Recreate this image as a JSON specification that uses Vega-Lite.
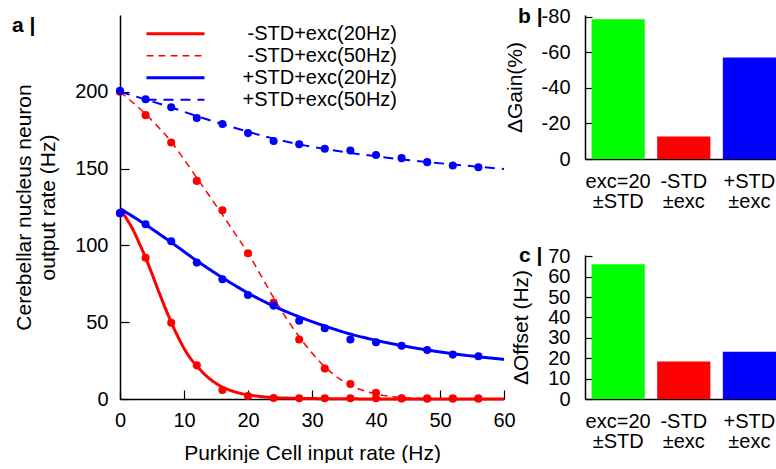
{
  "$schema": "https://vega.github.io/schema/vega-lite/v6.json",
  "padding": {"left": 12, "top": 5, "right": 0, "bottom": 0},
  "background": "white",
  "config": {
    "font": "Liberation Sans",
    "view": {"stroke": null},
    "axis": {"grid": false, "domainColor": "#000", "domainWidth": 1.5, "tickColor": "#000", "tickWidth": 1.2, "ticks": true, "labelColor": "#000", "titleColor": "#000", "labelFontSize": 20, "titleFontSize": 21, "titleFontWeight": "normal", "labelFont": "Liberation Sans", "titleFont": "Liberation Sans"},
    "title": {"color": "#000", "font": "Liberation Sans"}
  },
  "datasets": {
    "curves": [
      {"s": "-STD+exc(20Hz)", "x": 0, "y": 124}, {"s": "-STD+exc(20Hz)", "x": 1, "y": 117.5}, {"s": "-STD+exc(20Hz)", "x": 2, "y": 110.5}, {"s": "-STD+exc(20Hz)", "x": 3, "y": 101.5}, {"s": "-STD+exc(20Hz)", "x": 4, "y": 92}, {"s": "-STD+exc(20Hz)", "x": 5, "y": 81.5}, {"s": "-STD+exc(20Hz)", "x": 6, "y": 70.5}, {"s": "-STD+exc(20Hz)", "x": 7, "y": 60}, {"s": "-STD+exc(20Hz)", "x": 8, "y": 50}, {"s": "-STD+exc(20Hz)", "x": 9, "y": 41}, {"s": "-STD+exc(20Hz)", "x": 10, "y": 33}, {"s": "-STD+exc(20Hz)", "x": 11, "y": 26.5}, {"s": "-STD+exc(20Hz)", "x": 12, "y": 21.5}, {"s": "-STD+exc(20Hz)", "x": 13, "y": 17}, {"s": "-STD+exc(20Hz)", "x": 14, "y": 13.2}, {"s": "-STD+exc(20Hz)", "x": 15, "y": 10.2}, {"s": "-STD+exc(20Hz)", "x": 16, "y": 7.8}, {"s": "-STD+exc(20Hz)", "x": 17, "y": 6}, {"s": "-STD+exc(20Hz)", "x": 18, "y": 4.6}, {"s": "-STD+exc(20Hz)", "x": 19, "y": 3.5}, {"s": "-STD+exc(20Hz)", "x": 20, "y": 2.7}, {"s": "-STD+exc(20Hz)", "x": 22, "y": 1.6}, {"s": "-STD+exc(20Hz)", "x": 24, "y": 0.9}, {"s": "-STD+exc(20Hz)", "x": 26, "y": 0.6}, {"s": "-STD+exc(20Hz)", "x": 28, "y": 0.4}, {"s": "-STD+exc(20Hz)", "x": 32, "y": 0.2}, {"s": "-STD+exc(20Hz)", "x": 36, "y": 0.1}, {"s": "-STD+exc(20Hz)", "x": 40, "y": 0.05}, {"s": "-STD+exc(20Hz)", "x": 50, "y": 0}, {"s": "-STD+exc(20Hz)", "x": 60, "y": 0},
      {"s": "-STD+exc(50Hz)", "x": 0, "y": 200}, {"s": "-STD+exc(50Hz)", "x": 2, "y": 193}, {"s": "-STD+exc(50Hz)", "x": 4, "y": 185.5}, {"s": "-STD+exc(50Hz)", "x": 6, "y": 177}, {"s": "-STD+exc(50Hz)", "x": 8, "y": 167.5}, {"s": "-STD+exc(50Hz)", "x": 10, "y": 156}, {"s": "-STD+exc(50Hz)", "x": 12, "y": 144}, {"s": "-STD+exc(50Hz)", "x": 14, "y": 132}, {"s": "-STD+exc(50Hz)", "x": 16, "y": 120}, {"s": "-STD+exc(50Hz)", "x": 18, "y": 107.5}, {"s": "-STD+exc(50Hz)", "x": 20, "y": 95}, {"s": "-STD+exc(50Hz)", "x": 22, "y": 80.5}, {"s": "-STD+exc(50Hz)", "x": 24, "y": 66}, {"s": "-STD+exc(50Hz)", "x": 26, "y": 52.5}, {"s": "-STD+exc(50Hz)", "x": 28, "y": 40.5}, {"s": "-STD+exc(50Hz)", "x": 30, "y": 30}, {"s": "-STD+exc(50Hz)", "x": 32, "y": 21}, {"s": "-STD+exc(50Hz)", "x": 34, "y": 14}, {"s": "-STD+exc(50Hz)", "x": 36, "y": 9}, {"s": "-STD+exc(50Hz)", "x": 38, "y": 5.5}, {"s": "-STD+exc(50Hz)", "x": 40, "y": 3.2}, {"s": "-STD+exc(50Hz)", "x": 42, "y": 1.8}, {"s": "-STD+exc(50Hz)", "x": 44, "y": 1}, {"s": "-STD+exc(50Hz)", "x": 46, "y": 0.5}, {"s": "-STD+exc(50Hz)", "x": 48, "y": 0.3}, {"s": "-STD+exc(50Hz)", "x": 52, "y": 0.1}, {"s": "-STD+exc(50Hz)", "x": 60, "y": 0},
      {"s": "+STD+exc(20Hz)", "x": 0, "y": 124}, {"s": "+STD+exc(20Hz)", "x": 4, "y": 113.5}, {"s": "+STD+exc(20Hz)", "x": 8, "y": 102}, {"s": "+STD+exc(20Hz)", "x": 12, "y": 90}, {"s": "+STD+exc(20Hz)", "x": 16, "y": 79}, {"s": "+STD+exc(20Hz)", "x": 20, "y": 69}, {"s": "+STD+exc(20Hz)", "x": 24, "y": 60.5}, {"s": "+STD+exc(20Hz)", "x": 28, "y": 53.5}, {"s": "+STD+exc(20Hz)", "x": 32, "y": 47.5}, {"s": "+STD+exc(20Hz)", "x": 36, "y": 42.3}, {"s": "+STD+exc(20Hz)", "x": 40, "y": 38.2}, {"s": "+STD+exc(20Hz)", "x": 44, "y": 34.8}, {"s": "+STD+exc(20Hz)", "x": 48, "y": 31.9}, {"s": "+STD+exc(20Hz)", "x": 52, "y": 29.5}, {"s": "+STD+exc(20Hz)", "x": 56, "y": 27.5}, {"s": "+STD+exc(20Hz)", "x": 60, "y": 25.8},
      {"s": "+STD+exc(50Hz)", "x": 0, "y": 200}, {"s": "+STD+exc(50Hz)", "x": 4, "y": 195}, {"s": "+STD+exc(50Hz)", "x": 8, "y": 189.8}, {"s": "+STD+exc(50Hz)", "x": 12, "y": 184.2}, {"s": "+STD+exc(50Hz)", "x": 16, "y": 179}, {"s": "+STD+exc(50Hz)", "x": 20, "y": 174}, {"s": "+STD+exc(50Hz)", "x": 24, "y": 169.5}, {"s": "+STD+exc(50Hz)", "x": 28, "y": 165.8}, {"s": "+STD+exc(50Hz)", "x": 32, "y": 162.8}, {"s": "+STD+exc(50Hz)", "x": 36, "y": 160.2}, {"s": "+STD+exc(50Hz)", "x": 40, "y": 158}, {"s": "+STD+exc(50Hz)", "x": 44, "y": 156}, {"s": "+STD+exc(50Hz)", "x": 48, "y": 154.3}, {"s": "+STD+exc(50Hz)", "x": 52, "y": 152.7}, {"s": "+STD+exc(50Hz)", "x": 56, "y": 151.2}, {"s": "+STD+exc(50Hz)", "x": 60, "y": 149.8}
    ],
    "dots": [
      {"s": "-STD+exc(20Hz)", "x": 0, "y": 121}, {"s": "-STD+exc(20Hz)", "x": 4, "y": 92}, {"s": "-STD+exc(20Hz)", "x": 8, "y": 49.7}, {"s": "-STD+exc(20Hz)", "x": 12, "y": 21.9}, {"s": "-STD+exc(20Hz)", "x": 16, "y": 5.9}, {"s": "-STD+exc(20Hz)", "x": 20, "y": 2}, {"s": "-STD+exc(20Hz)", "x": 24, "y": 0.7}, {"s": "-STD+exc(20Hz)", "x": 28, "y": 0.5}, {"s": "-STD+exc(20Hz)", "x": 32, "y": 0.5}, {"s": "-STD+exc(20Hz)", "x": 36, "y": 0.5}, {"s": "-STD+exc(20Hz)", "x": 40, "y": 0.5}, {"s": "-STD+exc(20Hz)", "x": 44, "y": 0.3}, {"s": "-STD+exc(20Hz)", "x": 48, "y": 0.3}, {"s": "-STD+exc(20Hz)", "x": 52, "y": 0.3}, {"s": "-STD+exc(20Hz)", "x": 56, "y": 0.3},
      {"s": "-STD+exc(50Hz)", "x": 0, "y": 200}, {"s": "-STD+exc(50Hz)", "x": 4, "y": 184.8}, {"s": "-STD+exc(50Hz)", "x": 8, "y": 167}, {"s": "-STD+exc(50Hz)", "x": 12, "y": 142}, {"s": "-STD+exc(50Hz)", "x": 16, "y": 122.9}, {"s": "-STD+exc(50Hz)", "x": 20, "y": 94.9}, {"s": "-STD+exc(50Hz)", "x": 24, "y": 62.8}, {"s": "-STD+exc(50Hz)", "x": 28, "y": 38.7}, {"s": "-STD+exc(50Hz)", "x": 32, "y": 19.8}, {"s": "-STD+exc(50Hz)", "x": 36, "y": 9.8}, {"s": "-STD+exc(50Hz)", "x": 40, "y": 4.1}, {"s": "-STD+exc(50Hz)", "x": 44, "y": 0.5}, {"s": "-STD+exc(50Hz)", "x": 48, "y": 0.3}, {"s": "-STD+exc(50Hz)", "x": 52, "y": 0.3}, {"s": "-STD+exc(50Hz)", "x": 56, "y": 0.3},
      {"s": "+STD+exc(20Hz)", "x": 0, "y": 121}, {"s": "+STD+exc(20Hz)", "x": 4, "y": 113.8}, {"s": "+STD+exc(20Hz)", "x": 8, "y": 102.7}, {"s": "+STD+exc(20Hz)", "x": 12, "y": 88.8}, {"s": "+STD+exc(20Hz)", "x": 16, "y": 78}, {"s": "+STD+exc(20Hz)", "x": 20, "y": 67.7}, {"s": "+STD+exc(20Hz)", "x": 24, "y": 60.8}, {"s": "+STD+exc(20Hz)", "x": 28, "y": 51}, {"s": "+STD+exc(20Hz)", "x": 32, "y": 46}, {"s": "+STD+exc(20Hz)", "x": 36, "y": 38.7}, {"s": "+STD+exc(20Hz)", "x": 40, "y": 36.9}, {"s": "+STD+exc(20Hz)", "x": 44, "y": 34.7}, {"s": "+STD+exc(20Hz)", "x": 48, "y": 31.9}, {"s": "+STD+exc(20Hz)", "x": 52, "y": 28.9}, {"s": "+STD+exc(20Hz)", "x": 56, "y": 27.8},
      {"s": "+STD+exc(50Hz)", "x": 0, "y": 200.6}, {"s": "+STD+exc(50Hz)", "x": 4, "y": 195.2}, {"s": "+STD+exc(50Hz)", "x": 8, "y": 190}, {"s": "+STD+exc(50Hz)", "x": 12, "y": 182.9}, {"s": "+STD+exc(50Hz)", "x": 16, "y": 179}, {"s": "+STD+exc(50Hz)", "x": 20, "y": 173.1}, {"s": "+STD+exc(50Hz)", "x": 24, "y": 168}, {"s": "+STD+exc(50Hz)", "x": 28, "y": 165.9}, {"s": "+STD+exc(50Hz)", "x": 32, "y": 162.9}, {"s": "+STD+exc(50Hz)", "x": 36, "y": 161.8}, {"s": "+STD+exc(50Hz)", "x": 40, "y": 158.8}, {"s": "+STD+exc(50Hz)", "x": 44, "y": 156.8}, {"s": "+STD+exc(50Hz)", "x": 48, "y": 154.2}, {"s": "+STD+exc(50Hz)", "x": 52, "y": 152}, {"s": "+STD+exc(50Hz)", "x": 56, "y": 150.9}
    ],
    "gain": [
      {"g": "exc=20|±STD", "v": -78.6},
      {"g": "-STD|±exc", "v": -12.7},
      {"g": "+STD|±exc", "v": -57.1}
    ],
    "offset": [
      {"g": "exc=20|±STD", "v": 66.1},
      {"g": "-STD|±exc", "v": 18.4},
      {"g": "+STD|±exc", "v": 23.2}
    ]
  },
  "bounds": "flush",
  "spacing": 81,
  "resolve": {"scale": {"color": "independent", "fill": "independent", "strokeDash": "independent", "strokeWidth": "independent"}},
  "hconcat": [
    {
      "width": 384,
      "height": 384,
      "title": {"text": "a  |", "anchor": "start", "frame": "group", "fontSize": 21, "fontWeight": "bold", "offset": 0, "dx": -108, "dy": 38, "baseline": "alphabetic"},
      "layer": [
        {
          "data": {"name": "curves"},
          "mark": {"type": "line", "interpolate": "monotone"},
          "encoding": {
            "x": {"field": "x", "type": "quantitative", "scale": {"domain": [0, 60], "nice": false},
                  "axis": {"values": [0, 10, 20, 30, 40, 50, 60], "tickSize": -9, "labelPadding": 20, "labelFlush": false, "title": "Purkinje Cell input rate (Hz)", "titlePadding": 12}},
            "y": {"field": "y", "type": "quantitative", "scale": {"domain": [0, 250], "nice": false},
                  "axis": {"values": [0, 50, 100, 150, 200], "tickSize": -9, "labelPadding": 21, "labelFlush": false, "title": ["Cerebellar nucleus neuron", "output rate (Hz)"], "titleLineHeight": 24, "titlePadding": 16}},
            "color": {"field": "s", "type": "nominal",
                      "scale": {"domain": ["-STD+exc(20Hz)", "-STD+exc(50Hz)", "+STD+exc(20Hz)", "+STD+exc(50Hz)"], "range": ["#ff0000", "#ff0000", "#0000ff", "#0000ff"]},
                      "legend": {"title": null, "orient": "none", "legendX": 25, "legendY": 8, "symbolType": "stroke", "symbolSize": 3364, "clipHeight": 21.5, "labelAlign": "right", "labelOffset": 191, "labelLimit": 400, "labelFontSize": 20, "labelColor": "#000", "padding": 0, "rowPadding": 0}},
            "strokeDash": {"field": "s", "type": "nominal",
                      "scale": {"type": "ordinal", "domain": ["-STD+exc(20Hz)", "-STD+exc(50Hz)", "+STD+exc(20Hz)", "+STD+exc(50Hz)"], "range": [[1, 0], [7, 5], [1, 0], [10, 7]]}},
            "strokeWidth": {"field": "s", "type": "nominal",
                      "scale": {"type": "ordinal", "domain": ["-STD+exc(20Hz)", "-STD+exc(50Hz)", "+STD+exc(20Hz)", "+STD+exc(50Hz)"], "range": [3, 1.5, 3, 2]}}
          }
        },
        {
          "data": {"name": "dots"},
          "mark": {"type": "circle", "size": 65, "opacity": 1},
          "encoding": {
            "x": {"field": "x", "type": "quantitative"},
            "y": {"field": "y", "type": "quantitative"},
            "fill": {"field": "s", "type": "nominal",
                     "scale": {"domain": ["-STD+exc(20Hz)", "-STD+exc(50Hz)", "+STD+exc(20Hz)", "+STD+exc(50Hz)"], "range": ["#ff0000", "#ff0000", "#0000ff", "#0000ff"]},
                     "legend": null}
          }
        }
      ]
    },
    {
      "bounds": "flush",
      "spacing": 96,
      "vconcat": [
        {
          "width": 191,
          "height": 144,
          "data": {"name": "gain"},
          "title": {"text": "b  |", "anchor": "start", "frame": "group", "fontSize": 21, "fontWeight": "bold", "offset": 0, "dx": -67, "dy": 37, "baseline": "alphabetic"},
          "mark": "bar",
          "encoding": {
            "x": {"field": "g", "type": "nominal", "sort": null, "scale": {"paddingInner": 0.19, "paddingOuter": 0.05, "align": 1},
                  "axis": {"title": null, "ticks": false, "labelAngle": 0, "labelPadding": 12, "labelExpr": "split(datum.label, '|')", "labelLineHeight": 20}},
            "y": {"field": "v", "type": "quantitative", "scale": {"domain": [0, -81], "nice": false},
                  "axis": {"values": [0, -20, -40, -60, -80], "labelExpr": "'' + datum.value", "tickSize": -7, "labelPadding": 22, "title": "ΔGain(%)", "titlePadding": 16}},
            "color": {"field": "g", "type": "nominal", "sort": null, "scale": {"domain": ["exc=20|±STD", "-STD|±exc", "+STD|±exc"], "range": ["#00ff00", "#ff0000", "#0000ff"]}, "legend": null}
          }
        },
        {
          "width": 191,
          "height": 144,
          "data": {"name": "offset"},
          "title": {"text": "c  |", "anchor": "start", "frame": "group", "fontSize": 21, "fontWeight": "bold", "offset": 0, "dx": -66, "dy": 37, "baseline": "alphabetic"},
          "mark": "bar",
          "encoding": {
            "x": {"field": "g", "type": "nominal", "sort": null, "scale": {"paddingInner": 0.19, "paddingOuter": 0.05, "align": 1},
                  "axis": {"title": null, "ticks": false, "labelAngle": 0, "labelPadding": 12, "labelExpr": "split(datum.label, '|')", "labelLineHeight": 20}},
            "y": {"field": "v", "type": "quantitative", "scale": {"domain": [0, 70.6], "nice": false},
                  "axis": {"values": [0, 10, 20, 30, 40, 50, 60, 70], "tickSize": -7, "labelPadding": 22, "title": "ΔOffset (Hz)", "titlePadding": 16}},
            "color": {"field": "g", "type": "nominal", "sort": null, "scale": {"domain": ["exc=20|±STD", "-STD|±exc", "+STD|±exc"], "range": ["#00ff00", "#ff0000", "#0000ff"]}, "legend": null}
          }
        }
      ]
    }
  ]
}
